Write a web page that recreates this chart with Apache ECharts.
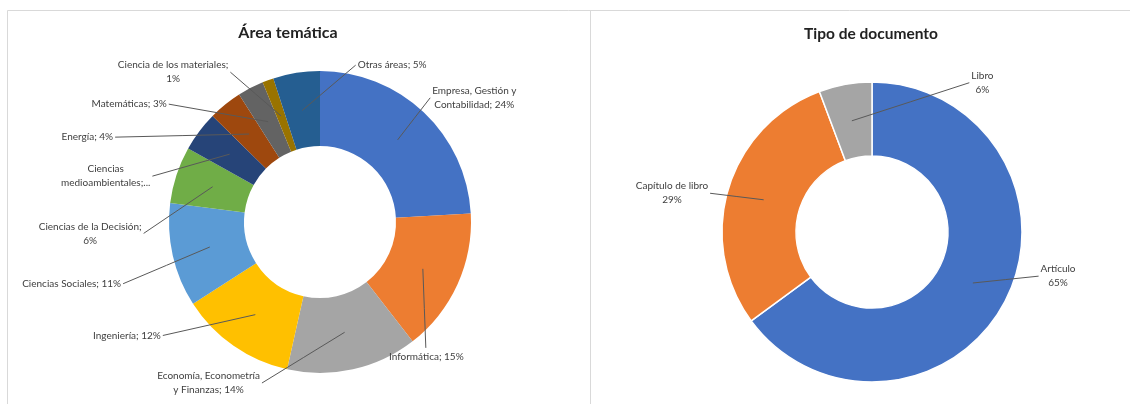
<!DOCTYPE html>
<html><head><meta charset="utf-8">
<script src="https://cdn.jsdelivr.net/npm/echarts@6/dist/echarts.min.js"></script>
<style>html,body{margin:0;padding:0;background:#fff}#c{width:1130px;height:404px}</style>
</head><body><div id="c"></div>
<script>
// ---- Data: Área temática ----
const areaNames = ['Empresa, Gestión y Contabilidad', 'Informática', 'Economía, Econometría y Finanzas', 'Ingeniería', 'Ciencias Sociales', 'Ciencias de la Decisión', 'Ciencias medioambientales', 'Energía', 'Matemáticas', 'Ciencia de los materiales', 'Otras áreas'];
const areaValues = [24.1, 15.4, 14.0, 12.4, 11.1, 6.1, 4.3, 3.6, 2.8, 1.2, 5.0];
const areaLabelTexts = ['Empresa, Gestión y\nContabilidad; {p}%', 'Informática; {p}%', 'Economía, Econometría\ny Finanzas; {p}%', 'Ingeniería; {p}%', 'Ciencias Sociales; {p}%', 'Ciencias de la Decisión;\n{p}%', 'Ciencias\nmedioambientales;...', 'Energía; {p}%', 'Matemáticas; {p}%', 'Ciencia de los materiales;\n{p}%', 'Otras áreas; {p}%'];
const areaColors = ['#4472C4', '#ED7D31', '#A5A5A5', '#FFC000', '#5B9BD5', '#70AD47', '#264478', '#9E480E', '#636363', '#997300', '#255E91'];

// ---- Data: Tipo de documento ----
const docNames = ['Artículo', 'Capítulo de libro', 'Libro'];
const docValues = [64.9, 29.4, 5.7];
const docColors = ['#4472C4', '#ED7D31', '#A5A5A5'];

// ---- Label placement: shifts (px) applied to the positions ECharts computes ----
const areaLabelNudge = [[-21, 3], [-99, 65], [-214, -6], [-46, -30], [-20, 23], [-4, 66], [-10, 42], [-63, 26], [-24, 9], [8, 0], [147, 16]];
const docLabelNudge = [[-3, -33], [19, 10], [171, 19]];

const FONT = 'Lato';
const CLEAR = 'rgba(0,0,0,0)';

function centred(text) {
  return text.split('\n').map(s => '{c|' + s + '}').join('\n');
}
const labelStyle = {
  show: true, position: 'outside', fontFamily: FONT, fontSize: 10, color: '#404040', lineHeight: 14,
  rich: { c: { align: 'center', fontFamily: FONT, fontSize: 10, color: '#404040', lineHeight: 14 } }
};

function nudgedLayout(nudges) {
  return function (params) {
    const n = nudges[params.dataIndex] || [0, 0];
    const r = params.labelRect;
    const x = r.x + n[0], y = r.y + n[1], w = r.width, h = r.height;
    const out = { x: x, y: y, align: 'left', verticalAlign: 'top' };
    const pts = params.labelLinePoints;
    if (pts && pts.length) {
      const s = pts[0];
      let e;
      if (s[0] >= x && s[0] <= x + w) e = [s[0] + 3, s[1] < y ? y - 2 : y + h + 2];
      else if (s[0] < x) e = [x - 2, y + h / 2];
      else e = [x + w + 2, y + h / 2];
      out.labelLinePoints = [[s[0], s[1]], [(s[0] + e[0]) / 2, (s[1] + e[1]) / 2], e];
    }
    return out;
  };
}

const chart = echarts.init(document.getElementById('c'), null, { renderer: 'canvas' });
chart.setOption({
  backgroundColor: '#fff',
  animation: false,
  title: [
    { text: 'Área temática', left: 283, top: 20, textAlign: 'center',
      textStyle: { fontFamily: FONT, fontSize: 16, fontWeight: 'bold', color: '#222' } },
    { text: 'Tipo de documento', left: 866, top: 21, textAlign: 'center',
      textStyle: { fontFamily: FONT, fontSize: 15.5, fontWeight: 'bold', color: '#222' } }
  ],
  graphic: [
    { type: 'line', shape: { x1: 7.5, y1: 10.5, x2: 1130, y2: 10.5 }, style: { stroke: '#d9d9d9', lineWidth: 1 } },
    { type: 'line', shape: { x1: 7.5, y1: 10.5, x2: 7.5, y2: 404 }, style: { stroke: '#d9d9d9', lineWidth: 1 } },
    { type: 'line', shape: { x1: 590.5, y1: 10.5, x2: 590.5, y2: 404 }, style: { stroke: '#d9d9d9', lineWidth: 1 } }
  ],
  series: [
    {
      type: 'pie', silent: true, z: 1,
      center: [320, 222], radius: [76, 151],
      startAngle: 90, clockwise: true,
      color: areaColors,
      itemStyle: { borderWidth: 0 },
      label: { show: false }, labelLine: { show: false },
      data: areaNames.map((n, i) => ({ name: n, value: areaValues[i] }))
    },
    {
      type: 'pie', silent: true, z: 3,
      center: [320, 222], radius: [0, 113],
      startAngle: 90, clockwise: true,
      avoidLabelOverlap: true,
      itemStyle: { color: CLEAR, borderWidth: 0 },
      label: Object.assign({}, labelStyle, {
        formatter: p => centred(areaLabelTexts[p.dataIndex].replace('{p}', Math.round(p.value)))
      }),
      labelLine: { show: true, length: 62, length2: 8, lineStyle: { color: '#595959', width: 1 } },
      labelLayout: nudgedLayout(areaLabelNudge),
      data: areaNames.map((n, i) => ({ name: n, value: areaValues[i] }))
    },
    {
      type: 'pie', silent: true, z: 1,
      center: [872, 232], radius: [76, 150],
      startAngle: 90, clockwise: true,
      color: docColors,
      itemStyle: { borderColor: '#fff', borderWidth: 1.5 },
      label: { show: false }, labelLine: { show: false },
      data: docNames.map((n, i) => ({ name: n, value: docValues[i] }))
    },
    {
      type: 'pie', silent: true, z: 3,
      center: [872, 232], radius: [0, 113],
      startAngle: 90, clockwise: true,
      itemStyle: { color: CLEAR, borderWidth: 0 },
      label: Object.assign({}, labelStyle, {
        formatter: p => centred(p.name + '\n' + Math.round(p.value) + '%')
      }),
      labelLine: { show: true, length: 58, length2: 14, lineStyle: { color: '#595959', width: 1 } },
      labelLayout: nudgedLayout(docLabelNudge),
      data: docNames.map((n, i) => ({ name: n, value: docValues[i] }))
    }
  ]
});
</script>
</body></html>
